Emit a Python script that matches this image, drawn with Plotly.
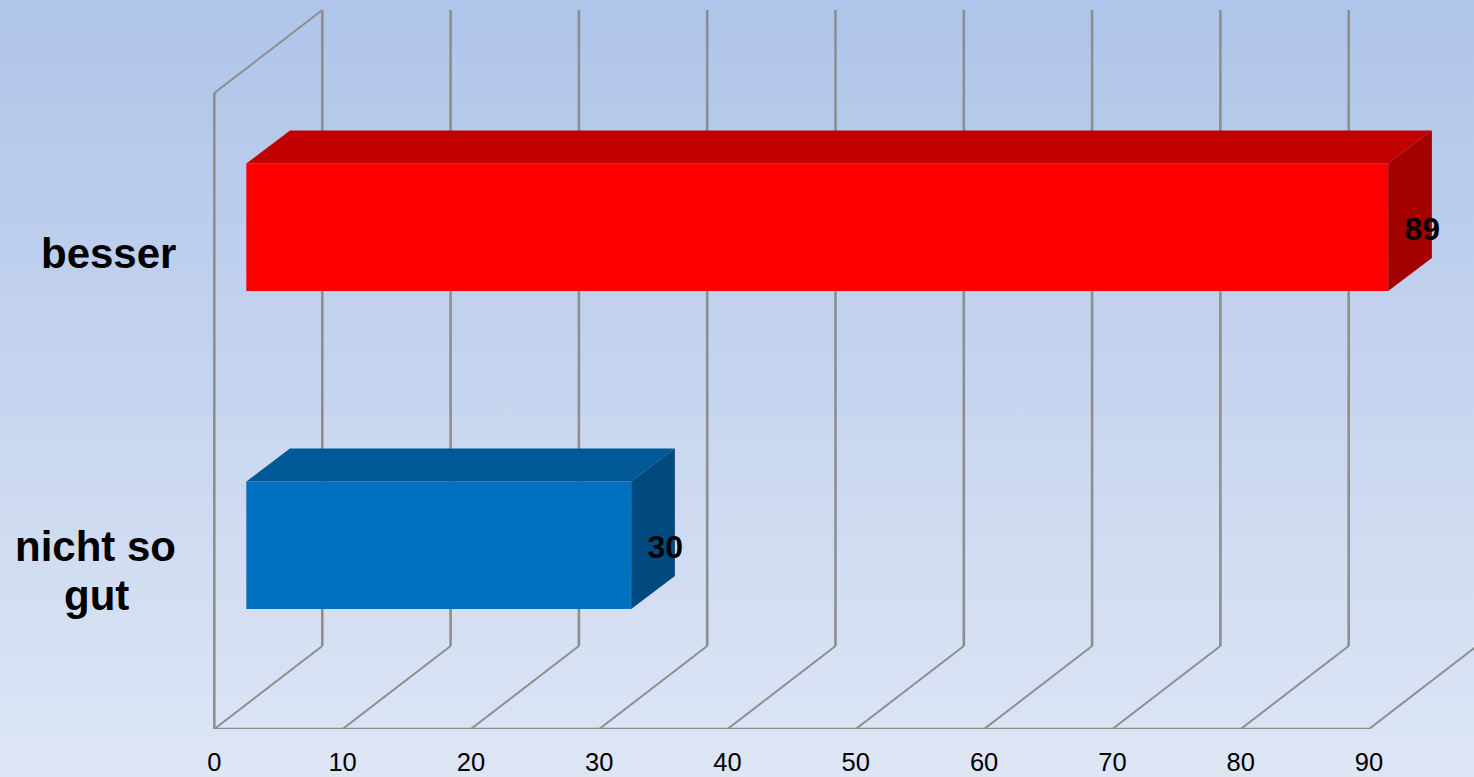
import plotly.graph_objects as go

# ---- data ----
categories = ["nicht so gut", "besser"]
category_lines = [["nicht so", "gut"], ["besser"]]
values = [30, 89]
tick_values = [0, 10, 20, 30, 40, 50, 60, 70, 80, 90]

# ---- style ----
front_colors = ["#0070C0", "#FF0000"]
top_colors = ["#005896", "#C20000"]
side_colors = ["#004A7F", "#A30000"]
GRID = "#8E8E8E"
FONT = "Liberation Sans"

W, H = 1474, 777
PLOT_BOTTOM = 48
PX_PER_X = 12.83
PX_PER_CAT = 318.0
X_MIN = -214.3 / PX_PER_X
X_MAX = X_MIN + W / PX_PER_X
Y_BOTTOM = -0.5
Y_WALL_TOP = 1.5
Y_MAX = Y_WALL_TOP + 93 / PX_PER_CAT

# oblique projection of the depth axis, in data units
DEPTH_X = 108 / PX_PER_X
DEPTH_Y = 83 / PX_PER_CAT
FRONT = 0.3056      # bar front face, share of the depth
BACK = 0.7037       # bar back face, share of the depth
BAR_WIDTH = 127.5 / PX_PER_CAT
LABEL_DROP = 5.0 / PX_PER_CAT

fig = go.Figure()


def add_seg(x_a, y_a, x_b, y_b, width):
    fig.add_shape(type="line", xref="x", yref="y", x0=x_a, y0=y_a, x1=x_b, y1=y_b,
                  layer="below", line=dict(color=GRID, width=width))


# walls and floor grid, behind the bars
add_seg(0, Y_BOTTOM, 0, Y_WALL_TOP, 2.6)
add_seg(0, Y_WALL_TOP, DEPTH_X, Y_WALL_TOP + DEPTH_Y, 2.0)
for t in tick_values:
    add_seg(t, Y_BOTTOM, t + DEPTH_X, Y_BOTTOM + DEPTH_Y, 2.0)
    if t < tick_values[-1]:
        add_seg(t + DEPTH_X, Y_BOTTOM + DEPTH_Y, t + DEPTH_X, Y_WALL_TOP + DEPTH_Y, 2.6)
add_seg(tick_values[0], Y_BOTTOM, tick_values[-1], Y_BOTTOM, 2.6)

# bars: front face through the bar trace, depth faces from the same values
x0 = DEPTH_X * FRONT - 1.0 / PX_PER_X
y_shift = DEPTH_Y * FRONT - 0.6 / PX_PER_CAT
dx = DEPTH_X * (BACK - FRONT) + 0.7 / PX_PER_X
dy = DEPTH_Y * (BACK - FRONT)
pos = list(range(len(categories)))

for i, v in zip(pos, values):
    yc = i + y_shift
    lo, hi = yc - BAR_WIDTH / 2, yc + BAR_WIDTH / 2
    x1 = x0 + v
    fig.add_trace(go.Scatter(x=[x0, x1, x1 + dx, x0 + dx, x0], y=[hi, hi, hi + dy, hi + dy, hi],
                             mode="lines", fill="toself", fillcolor=top_colors[i],
                             line=dict(width=0), hoverinfo="skip"))
    fig.add_trace(go.Scatter(x=[x1, x1 + dx, x1 + dx, x1, x1], y=[lo, lo + dy, hi + dy, hi, lo],
                             mode="lines", fill="toself", fillcolor=side_colors[i],
                             line=dict(width=0), hoverinfo="skip"))

fig.add_trace(go.Bar(y=[p + y_shift for p in pos], x=values, base=[x0] * len(values),
                     orientation="h", width=BAR_WIDTH,
                     marker=dict(color=front_colors, line=dict(width=0)), hoverinfo="skip"))

# value labels
fig.add_trace(go.Scatter(x=[x0 + v + dx * 0.78 for v in values],
                         y=[p + y_shift - LABEL_DROP for p in pos],
                         mode="text", text=[f"<b>{v}</b>" for v in values],
                         textposition="middle center", cliponaxis=False,
                         textfont=dict(family=FONT, size=32, color="black"),
                         hoverinfo="skip"))

# category labels
LINE_PX = 49
for i, lines in zip(pos, category_lines):
    n = len(lines)
    for j, text in enumerate(lines):
        ann = dict(x=0, y=i, xref="x", yref="y", text=f"<b>{text}</b>", showarrow=False,
                   yanchor="middle", yshift=((n - 1) / 2 - j) * LINE_PX - 1,
                   font=dict(family=FONT, size=42, color="black"))
        if j == 0:
            ann.update(xanchor="right", xshift=-36)
        else:
            ann.update(xanchor="center", xshift=-118)
        fig.add_annotation(**ann)

fig.update_layout(
    width=W, height=H,
    margin=dict(l=0, r=0, t=0, b=PLOT_BOTTOM, pad=0),
    paper_bgcolor="rgba(0,0,0,0)", plot_bgcolor="rgba(0,0,0,0)",
    showlegend=False, barmode="overlay",
    xaxis=dict(range=[X_MIN, X_MAX], tickmode="array", tickvals=tick_values, automargin=False,
               ticktext=[str(t) for t in tick_values], showgrid=False, zeroline=False,
               showline=False, ticks="outside", ticklen=10, tickcolor="rgba(0,0,0,0)",
               tickfont=dict(family=FONT, size=25.5, color="black")),
    yaxis=dict(range=[Y_BOTTOM, Y_MAX], showgrid=False, zeroline=False, showline=False,
               automargin=False, showticklabels=False, ticks=""),
)

post = """
document.documentElement.style.margin='0';
document.body.style.margin='0';
document.body.style.overflow='hidden';
document.body.style.background='linear-gradient(180deg,#AEC4E9 0%,#DEE6F5 100%)';
document.body.style.minHeight='777px';
"""
fig.write_html("out.html", config={"displayModeBar": False}, post_script=post)
